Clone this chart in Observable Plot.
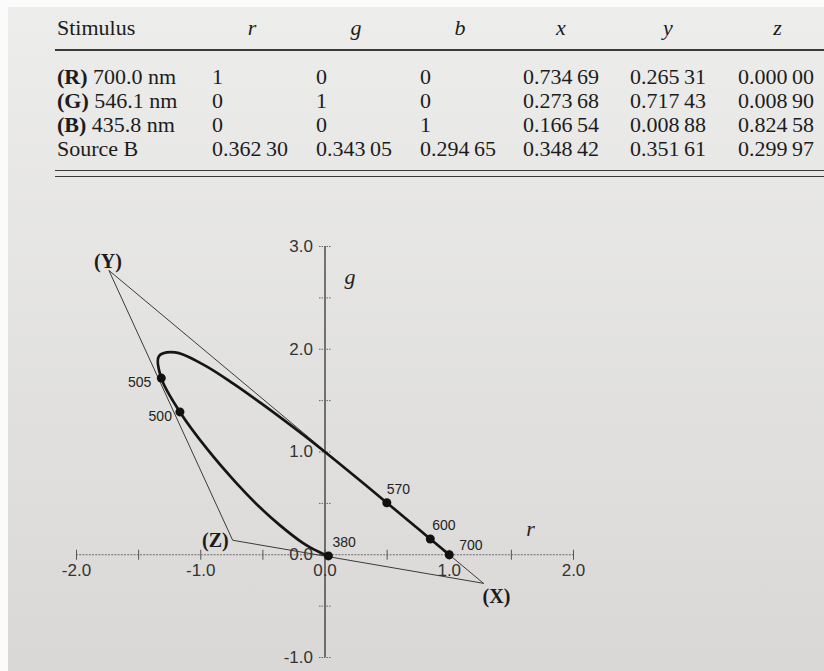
<!DOCTYPE html>
<html><head><meta charset="utf-8">
<script src="https://cdn.jsdelivr.net/npm/d3@7"></script>
<script src="https://cdn.jsdelivr.net/npm/@observablehq/plot@0.6"></script>
<style>
html,body{margin:0;padding:0;}
body{width:824px;height:671px;overflow:hidden;background:linear-gradient(#ededec,#d9d8d6);position:relative;font-family:"Liberation Serif",serif;}
#edgeTop{position:absolute;left:0;top:0;width:824px;height:7px;background:#fbfbfb;}
#edgeLeft{position:absolute;left:0;top:0;width:8px;height:671px;background:#fbfbfb;}
#table{position:absolute;left:0;top:0;width:824px;height:190px;}
.cell{position:absolute;font-size:22px;line-height:26px;color:#1c1c1c;white-space:nowrap;}
.hcell{text-align:center;width:80px;font-style:italic;}
.rule{position:absolute;left:55px;right:0;height:1.6px;background:#3a3a3a;}
#chart{position:absolute;left:0;top:190px;}
#chart svg{overflow:visible;}
</style></head><body>
<div id="edgeTop"></div><div id="edgeLeft"></div>
<div id="table"></div><div id="chart"></div>
<script>
// ---- table data ----
const tableHeaders = ["Stimulus", "r", "g", "b", "x", "y", "z"];
const stimulusTags = ["(R)", "(G)", "(B)", ""];
const stimulusNames = ["700.0 nm", "546.1 nm", "435.8 nm", "Source B"];
const colR = [1, 0, 0, 0.36230];
const colG = [0, 1, 0, 0.34305];
const colB = [0, 0, 1, 0.29465];
const colX = [0.73469, 0.27368, 0.16654, 0.34842];
const colY = [0.26531, 0.71743, 0.00888, 0.35161];
const colZ = [0.00000, 0.00890, 0.82458, 0.29997];

// ---- chart data (rg chromaticity of the spectrum locus) ----
const wavelengths = [380, 390, 400, 410, 420, 430, 440, 450, 460, 470, 480, 485, 490, 495, 500, 505, 510, 515, 520, 525, 530, 535, 540, 550, 560, 570, 580, 590, 600, 610, 620, 630, 640, 650, 660, 670, 680, 690, 700];
const locusR = [0.0272, 0.0263, 0.0247, 0.0225, 0.0181, 0.0088, -0.0084, -0.0391, -0.0908, -0.1823, -0.3666, -0.5202, -0.7148, -0.9458, -1.1677, -1.3176, -1.3368, -1.2072, -0.9829, -0.7383, -0.5159, -0.3303, -0.1707, 0.0974, 0.3164, 0.4974, 0.6450, 0.7618, 0.8474, 0.9060, 0.9425, 0.9649, 0.9798, 0.9888, 0.9940, 0.9966, 0.9984, 0.9996, 1.0000];
const locusG = [-0.0115, -0.0114, -0.0112, -0.0109, -0.0094, -0.0048, 0.0048, 0.0218, 0.0518, 0.1176, 0.2906, 0.4569, 0.6996, 1.0248, 1.3900, 1.7191, 1.9316, 1.9695, 1.8532, 1.6660, 1.4760, 1.3103, 1.1629, 0.9050, 0.6882, 0.5066, 0.3579, 0.2401, 0.1537, 0.0948, 0.0579, 0.0354, 0.0205, 0.0113, 0.0060, 0.0034, 0.0016, 0.0004, 0.0000];
const markedWavelengths = [380, 500, 505, 570, 600, 700];
const primaryNames = ["(X)", "(Y)", "(Z)"];
const primaryR = [1.2750, -1.7391, -0.7431];
const primaryG = [-0.2778, 2.7671, 0.1410];
const rTicks = [-2, -1.5, -1, -0.5, 0, 0.5, 1, 1.5, 2];
const rTickLabels = ["-2.0", "-1.0", "0.0", "1.0", "2.0"];
const gTicks = [-1, -0.5, 0, 0.5, 1, 1.5, 2, 2.5, 3];
const gTickLabels = ["-1.0", "0.0", "1.0", "2.0", "3.0"];

// ---- build table ----
const fmtNum = v => { const f = v.toFixed(5); return f.slice(0, 5) + "\u2009" + f.slice(5); };
const tbl = document.getElementById("table");
const colLeft = [57, 212, 316, 420, 523, 630, 738];
const colWidth = [0, 80, 80, 80, 76, 76, 79];
const headTop = 15, rowTop0 = 63.5, rowStep = 24;
function cell(html, left, top, cls) {
  const d = document.createElement("div");
  d.className = "cell" + (cls ? " " + cls : "");
  d.style.left = left + "px"; d.style.top = top + "px";
  d.innerHTML = html; tbl.appendChild(d); return d;
}
tableHeaders.forEach((h, i) => {
  if (i === 0) cell(h, colLeft[0], headTop);
  else { const d = cell(h, colLeft[i], headTop, "hcell"); d.style.width = colWidth[i] + "px"; }
});
const numCols = [colR, colG, colB, colX, colY, colZ];
stimulusNames.forEach((name, j) => {
  const top = rowTop0 + j * rowStep;
  cell((stimulusTags[j] ? "<b>" + stimulusTags[j] + "</b> " : "") + name, colLeft[0], top);
  numCols.forEach((col, c) => {
    const v = col[j];
    const txt = (c < 3 && j < 3) ? String(v) : fmtNum(v);
    cell(txt, colLeft[c + 1], top);
  });
});
[49, 169.5, 175.5].forEach(y => { const r = document.createElement("div"); r.className = "rule"; r.style.top = y + "px"; tbl.appendChild(r); });

// ---- chart ----
const locus = wavelengths.map((w, i) => ({w, r: locusR[i], g: locusG[i]}));
const primaries = primaryNames.map((n, i) => ({n, r: primaryR[i], g: primaryG[i]}));
const triangle = [...primaries, primaries[0]];
const marked = locus.filter(d => markedWavelengths.includes(d.w));
const labelStyle = {
  380: {dx: 4, dy: -13, anchor: "start"},
  500: {dx: -8, dy: 5, anchor: "end"},
  505: {dx: -10, dy: 4, anchor: "end"},
  570: {dx: 0, dy: -13, anchor: "start"},
  600: {dx: 2, dy: -13, anchor: "start"},
  700: {dx: 10, dy: -9, anchor: "start"}
};
const primaryStyle = {
  "(X)": {dx: 13, dy: 13, anchor: "middle"},
  "(Y)": {dx: -1, dy: -9, anchor: "middle"},
  "(Z)": {dx: -4, dy: 0, anchor: "end"}
};
const vTick = {draw(ctx, size) { const r = Math.sqrt(size / Math.PI); ctx.moveTo(0, -r); ctx.lineTo(0, r); }};
const hTick = {draw(ctx, size) { const r = Math.sqrt(size / Math.PI); ctx.moveTo(-r, 0); ctx.lineTo(r, 0); }};
const sans = "'Liberation Sans', Arial, sans-serif";
const serif = "'Liberation Serif', 'Times New Roman', serif";
const rExt = d3.extent(rTicks), gExt = d3.extent(gTicks);

const chart = Plot.plot({
  width: 824, height: 481,
  marginLeft: 76, marginRight: 251, marginTop: 56, marginBottom: 14,
  x: {domain: rExt, axis: null},
  y: {domain: gExt, axis: null},
  style: {background: "transparent", overflow: "visible"},
  marks: [
    Plot.ruleY([0], {x1: rExt[0], x2: rExt[1], stroke: "#6a6a6a", strokeWidth: 1.1, strokeDasharray: "2,1.2"}),
    Plot.ruleX([0], {y1: gExt[0], y2: gExt[1], stroke: "#262626", strokeWidth: 1.2}),
    Plot.dot(rTicks, {x: d => d, y: 0, symbol: vTick, r: 5, fill: "none", stroke: "#555", strokeWidth: 1}),
    Plot.dot(gTicks, {x: 0, y: d => d, symbol: hTick, r: 6, fill: "none", stroke: "#666", strokeWidth: 1, strokeDasharray: "1.5,1"}),
    Plot.text(rTickLabels, {x: d => +d, y: 0, text: d => d, dy: 16, fontSize: 17, fontFamily: sans, fill: "#333"}),
    Plot.text(gTickLabels, {x: 0, y: d => +d, text: d => d, dx: -12, textAnchor: "end", fontSize: 17, fontFamily: sans, fill: "#333"}),
    Plot.line(triangle, {x: "r", y: "g", stroke: "#3a3a3a", strokeWidth: 1}),
    Plot.line(locus, {x: "r", y: "g", stroke: "#151515", strokeWidth: 2.7, curve: "catmull-rom"}),
    Plot.dot(marked, {x: "r", y: "g", r: 4.5, fill: "#111"}),
    ...markedWavelengths.map(w => Plot.text(marked.filter(d => d.w === w), {
      x: "r", y: "g", text: d => String(d.w), dx: labelStyle[w].dx, dy: labelStyle[w].dy,
      textAnchor: labelStyle[w].anchor, fontSize: 14, fontFamily: sans, fill: "#222"})),
    ...primaryNames.map(n => Plot.text(primaries.filter(d => d.n === n), {
      x: "r", y: "g", text: "n", dx: primaryStyle[n].dx, dy: primaryStyle[n].dy,
      textAnchor: primaryStyle[n].anchor, fontSize: 20, fontWeight: "bold", fontFamily: serif, fill: "#1a1a1a"})),
    Plot.text(["g"], {x: 0, y: gExt[1], text: d => d, dx: 25, dy: 30, fontSize: 22, fontStyle: "italic", fontFamily: serif, fill: "#222"}),
    Plot.text(["r"], {x: rExt[1], y: 0, text: d => d, dx: -43, dy: -26, fontSize: 22, fontStyle: "italic", fontFamily: serif, fill: "#222"})
  ]
});
document.getElementById("chart").appendChild(chart);
</script>
</body></html>
